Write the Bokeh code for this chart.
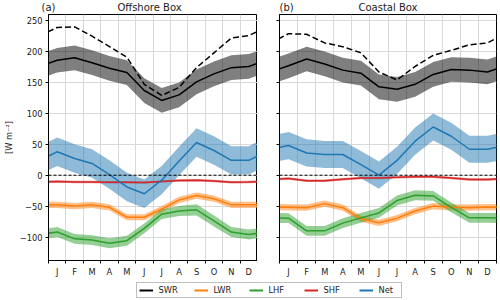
from bokeh.plotting import figure
from bokeh.models import Range1d, FixedTicker, Span, Legend, LegendItem
from bokeh.layouts import column, row
from bokeh.core.properties import value
from bokeh.embed import file_html
from bokeh.resources import INLINE

FONT = "DejaVu Sans"
TXT = "#222222"

months = list(range(1, 13))
month_labels = ["J", "F", "M", "A", "M", "J", "J", "A", "S", "O", "N", "D"]
y_ticks = [-100, -50, 0, 50, 100, 150, 200, 250]
y_tick_labels = ["\u2212100", "\u221250", "0", "50", "100", "150", "200", "250"]
series_names = ["SWR", "LWR", "LHF", "SHF", "Net"]
series_colors = ["black", "#ff7f0e", "#2ca02c", "#d62728", "#1f77b4"]
panel_letters = ["(a)", "(b)"]
panel_titles = ["Offshore Box", "Coastal Box"]
y_label = "[W m\u207b\u00b2]"

# ---- Offshore Box (a) ----
off_swr = [186, 190, 182, 173, 166, 137, 121, 130, 151, 164, 174, 176]
off_swr_sd = [20, 20, 20, 20, 20, 20, 20, 20, 20, 20, 20, 20]
off_swr_clear = [239, 240, 225, 208, 191, 147, 129, 142, 174, 198, 222, 226]
off_lwr = [-48, -50, -48, -52, -68, -68, -55, -40, -33, -38, -48, -48]
off_lwr_sd = [5, 5, 5, 5, 5, 5, 5, 5, 5, 5, 5, 5]
off_lhf = [-92, -103, -105, -110, -106, -86, -63, -58, -56, -74, -92, -96]
off_lhf_sd = [8, 8, 8, 8, 8, 8, 8, 8, 9, 9, 8, 8]
off_shf = [-10, -11, -11, -11.5, -11.5, -12, -10, -8.5, -8, -9.5, -11.5, -11]
off_shf_sd = [2, 2, 2, 2, 2, 2, 2, 2, 2, 2, 2, 2]
off_net = [38, 27, 19, 1, -19, -30, -8, 23, 53, 40, 24, 24]
off_net_sd = [23, 23, 23, 23, 23, 23, 23, 23, 23, 23, 23, 23]

# ---- Coastal Box (b) ----
coa_swr = [177, 188, 180, 170, 165, 143, 139, 147, 163, 171, 170, 167]
coa_swr_sd = [20, 20, 20, 20, 20, 20, 20, 20, 20, 20, 20, 20]
coa_swr_clear = [229, 228, 214, 208, 198, 167, 154, 176, 194, 202, 211, 214]
coa_lwr = [-52, -52.5, -46, -52.5, -70.5, -77, -69.5, -58, -50, -52, -52.5, -51.5]
coa_lwr_sd = [5, 5, 5, 5, 5, 5, 5, 5, 5, 5, 5, 5]
coa_lhf = [-69.5, -90, -90, -77.5, -69, -61, -41, -32.5, -33.5, -52, -69, -69]
coa_lhf_sd = [8, 8, 8, 8, 8, 8, 8, 8, 8, 8, 8, 8]
coa_shf = [-5.5, -9, -9, -6.5, -4.5, -4.5, -3.5, -2.5, -2.5, -4.5, -7, -7]
coa_shf_sd = [2, 2, 2, 2, 2, 2, 2, 2, 2, 2, 2, 2]
coa_net = [48, 36, 33.5, 33.5, 17, 0, 24, 55, 78, 63, 42, 42]
coa_net_sd = [22, 22, 22, 22, 22, 22, 22, 22, 22, 22, 22, 22]

Y_START, Y_END = -138, 260
FW1, FW2, FH = 216, 217, 249
LEFT1, LEFT2, RIGHT2 = 41, 22, 4
HEAD_H, BOTTOM, LEG_H = 14, 16, 21


def wrap(vals):
    # cyclic climatology: December before January, January after December
    return [vals[-1]] + list(vals) + [vals[0]]


x_ext = [months[-1] - 12] + months + [months[0] + 12]
bounds = [m - 0.5 for m in months] + [months[-1] + 0.5]


def style_blank(p):
    p.outline_line_color = None
    p.background_fill_color = "white"
    p.border_fill_color = "white"


def make_header(letter, title, left, fw, right):
    h = figure(width=left + fw + right, height=HEAD_H,
               x_range=Range1d(bounds[0], bounds[-1]), y_range=Range1d(0, 1),
               x_axis_type=None, y_axis_type=None, output_backend="svg",
               toolbar_location=None, min_border_left=left, min_border_right=right,
               min_border_top=0, min_border_bottom=0)
    style_blank(h)
    h.text(x=[bounds[0]], y=[0.5], text=[letter], text_align="left",
           text_baseline="middle", text_font=value(FONT), text_font_size="10px",
           text_color=TXT)
    h.text(x=[(bounds[0] + bounds[-1]) / 2], y=[0.5], text=[title], text_align="center",
           text_baseline="middle", text_font=value(FONT), text_font_size="10px",
           text_color=TXT)
    return h


def make_panel(means, sds, clear, first):
    left = LEFT1 if first else LEFT2
    right = 0 if first else RIGHT2
    fw = FW1 if first else FW2
    p = figure(width=left + fw + right, height=FH + BOTTOM,
               x_range=Range1d(bounds[0], bounds[-1]), y_range=Range1d(Y_START, Y_END),
               output_backend="svg", toolbar_location=None,
               min_border_left=left, min_border_right=right,
               min_border_top=0, min_border_bottom=BOTTOM)
    p.background_fill_color = "white"
    p.border_fill_color = "white"
    p.outline_line_color = "black"
    p.outline_line_width = 1

    p.xgrid.ticker = FixedTicker(ticks=bounds[1:-1])
    p.ygrid.ticker = FixedTicker(ticks=y_ticks)
    for g in (p.xgrid[0], p.ygrid[0]):
        g.grid_line_color = "#d9d9d9"
        g.grid_line_width = 1

    xa = p.xaxis[0]
    xa.ticker = FixedTicker(ticks=months, minor_ticks=bounds)
    xa.major_label_overrides = dict(zip(months, month_labels))
    xa.major_tick_line_color = None
    xa.major_tick_out = 0
    xa.major_tick_in = 0
    xa.minor_tick_line_color = "black"
    xa.minor_tick_out = 3
    xa.minor_tick_in = 0
    xa.major_label_standoff = 3
    xa.axis_line_color = "black"

    ya = p.yaxis[0]
    ya.ticker = FixedTicker(ticks=y_ticks)
    if first:
        ya.major_label_overrides = dict(zip(y_ticks, y_tick_labels))
        ya.axis_label = y_label
        ya.axis_label_text_font = FONT
        ya.axis_label_text_font_size = "8.3px"
        ya.axis_label_text_font_style = "normal"
        ya.axis_label_text_color = TXT
        ya.axis_label_standoff = 3
    else:
        ya.major_label_overrides = {t: "" for t in y_ticks}
    ya.major_tick_out = 3
    ya.major_tick_in = 0
    ya.minor_tick_line_color = None
    ya.major_label_standoff = 3
    ya.axis_line_color = "black"

    for a in (xa, ya):
        a.major_label_text_font = FONT
        a.major_label_text_font_size = "8.3px"
        a.major_label_text_color = TXT

    for m, s, c in zip(means, sds, series_colors):
        lo = [v - d for v, d in zip(m, s)]
        hi = [v + d for v, d in zip(m, s)]
        p.varea(x=x_ext, y1=wrap(lo), y2=wrap(hi), fill_color=c, fill_alpha=0.5)
    p.line(x=x_ext, y=wrap(clear), line_color="black", line_width=1.5, line_dash="6 3")
    p.add_layout(Span(location=0, dimension="width", line_color="black",
                      line_width=1, line_dash="3 2"))
    for m, c in zip(means, series_colors):
        p.line(x=x_ext, y=wrap(m), line_color=c, line_width=1.5)
    return p


h1 = make_header(panel_letters[0], panel_titles[0], LEFT1, FW1, 0)
h2 = make_header(panel_letters[1], panel_titles[1], LEFT2, FW2, RIGHT2)
p1 = make_panel([off_swr, off_lwr, off_lhf, off_shf, off_net],
                [off_swr_sd, off_lwr_sd, off_lhf_sd, off_shf_sd, off_net_sd],
                off_swr_clear, True)
p2 = make_panel([coa_swr, coa_lwr, coa_lhf, coa_shf, coa_net],
                [coa_swr_sd, coa_lwr_sd, coa_lhf_sd, coa_shf_sd, coa_net_sd],
                coa_swr_clear, False)

# legend strip (one-point proxy lines draw nothing but give the legend its glyphs)
total_w = LEFT1 + FW1 + LEFT2 + FW2 + RIGHT2
p3 = figure(width=total_w, height=LEG_H, x_range=Range1d(0, 1), y_range=Range1d(0, 1),
            x_axis_type=None, y_axis_type=None, output_backend="svg", toolbar_location=None,
            min_border_left=LEFT1, min_border_right=RIGHT2, min_border_top=0,
            min_border_bottom=0)
style_blank(p3)
items = []
for name, c, m in zip(series_names, series_colors, [off_swr, off_lwr, off_lhf, off_shf, off_net]):
    r = p3.line(x=[months[0]], y=[m[0]], line_color=c, line_width=2)
    items.append(LegendItem(label=name, renderers=[r]))
leg = Legend(items=items, orientation="horizontal", location="center",
             label_text_font=FONT, label_text_font_size="8.3px", label_text_color=TXT,
             glyph_width=14, glyph_height=10, label_height=10, label_standoff=6,
             spacing=15, padding=2, margin=0,
             border_line_color="#808080", border_line_width=1,
             background_fill_color="white", background_fill_alpha=1.0)
p3.add_layout(leg, "center")

layout = column(row(h1, h2), row(p1, p2), p3)
open("out.html", "w").write(file_html(layout, INLINE))
